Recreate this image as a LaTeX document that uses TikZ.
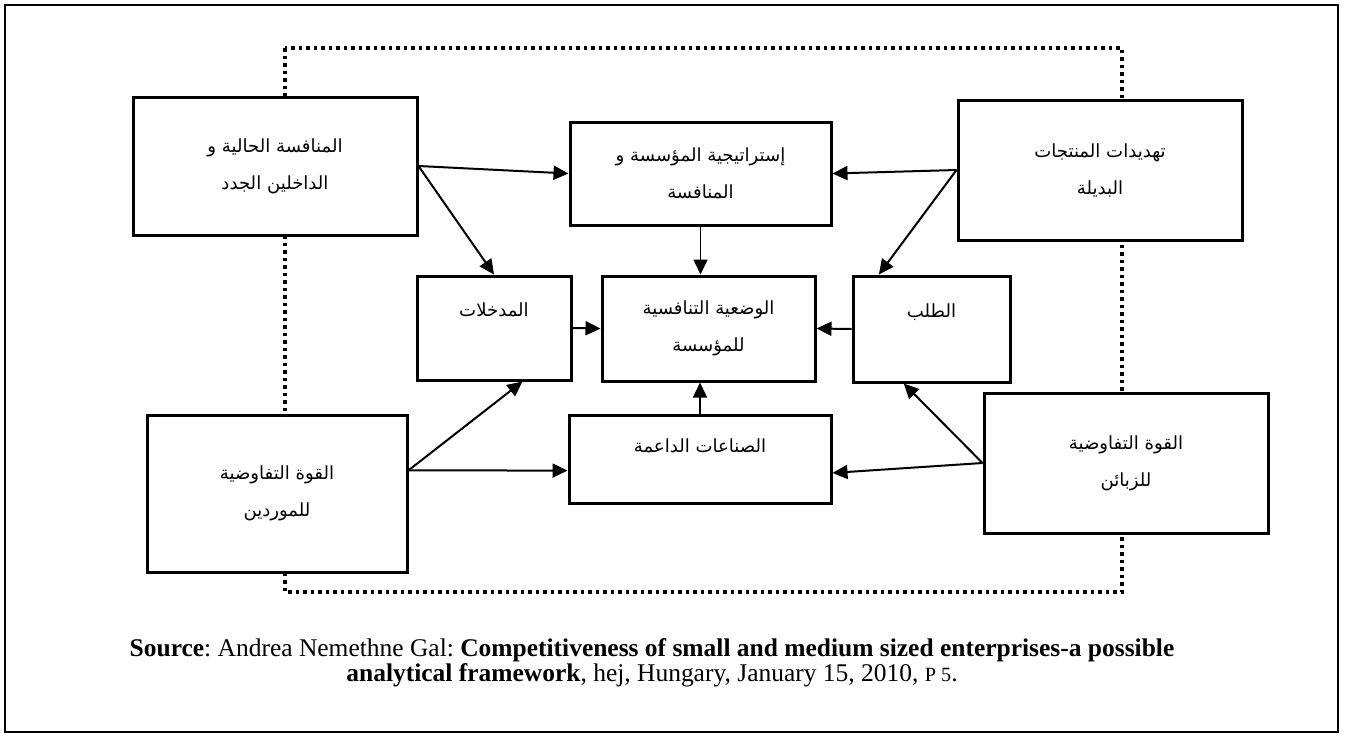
\documentclass[tikz,border=0pt]{standalone}
\usepackage{fontspec}
\setmainfont{Liberation Serif}
\newfontfamily\arabicfont[Script=Arabic]{DejaVu Sans}
\TeXXeTstate=1
\frenchspacing
\usetikzlibrary{
    arrows.meta,
    calc
}
\tikzset{fbox/.style={inner sep=0pt, rectangle, draw=black, fill=white, line width=0.06cm, align=center, font=\arabicfont\fontsize{10.3}{21}\selectfont}}
\tikzset{flow/.style={line width=0.04cm, -{Triangle[length=0.3cm,width=0.28cm]}}}
\tikzset{thinflow/.style={line width=0.03cm, -{Triangle[length=0.3cm,width=0.28cm]}}}

\begin{document}
\begin{tikzpicture}[x=0.02cm, y=-0.02cm]
                        \useasboundingbox (0, 0) rectangle (1345, 735);
                        \draw[line width=0.04cm] (5, 5) rectangle (1338, 732);
                        \draw[line width=0.07cm, dash pattern=on 0.07cm off 0.08cm] (285, 48) rectangle (1122, 592);

                        \node[fbox, minimum width=284*0.02cm, minimum height=138*0.02cm] (tl) at (275, 166) {\beginR المنافسة الحالية و\endR\\\beginR الداخلين الجدد\endR};
                        \node[fbox, minimum width=261*0.02cm, minimum height=103*0.02cm] (tc) at (700.5, 173.5) {\beginR إستراتيجية المؤسسة و\endR\\\beginR المنافسة\endR};
                        \node[fbox, minimum width=284*0.02cm, minimum height=140*0.02cm] (tr) at (1100, 170) {\beginR تهديدات المنتجات\endR\\\beginR البديلة\endR};
                        \node[fbox, minimum width=154*0.02cm, minimum height=104*0.02cm] (ml) at (494, 328) {\beginR المدخلات\endR\\\mbox{}};
                        \node[fbox, minimum width=213*0.02cm, minimum height=105*0.02cm] (mc) at (708.5, 328.5) {\beginR الوضعية التنافسية\endR\\\beginR للمؤسسة\endR};
                        \node[fbox, minimum width=157*0.02cm, minimum height=106*0.02cm] (mr) at (931.5, 329) {\beginR الطلب\endR\\\mbox{}};
                        \node[fbox, minimum width=260*0.02cm, minimum height=157*0.02cm] (bl) at (277, 493.5) {\beginR القوة التفاوضية\endR\\\beginR للموردين\endR};
                        \node[fbox, minimum width=262*0.02cm, minimum height=88*0.02cm] (bc) at (700, 459) {\beginR الصناعات الداعمة\endR\\[-6pt]\mbox{}};
                        \node[fbox, minimum width=284*0.02cm, minimum height=140*0.02cm] (br) at (1126, 463) {\beginR القوة التفاوضية\endR\\\beginR للزبائن\endR};

                        \path[flow]
                        (tl.east) edge (tc.west)
                        (tl.east) edge (ml.north)
                        (tr.west) edge (tc.east)
                        (tr.west) edge (mr.134)
                        (ml.east) edge (mc.west)
                        (mr.west) edge (mc.east)
                        (bl.10) edge (ml.-62)
                        (bl.10) edge (bc.185)
                        (br.west) edge (bc.-6)
                        (br.west) edge (mr.243);
                        \path[thinflow]
                        (tc.south) edge (tc.south |- mc.north)
                        (bc.north) edge (bc.north |- mc.south);

                        \node[align=center, font=\fontsize{14.5}{14.2}\selectfont] (src) at (652, 663) {\textbf{Source}: Andrea Nemethne Gal: \textbf{Competitiveness of small and medium sized enterprises-a possible}\\\textbf{analytical framework}, hej, Hungary, January 15, 2010, {\fontsize{11.5}{14.2}\selectfont P 5}.};
                    \end{tikzpicture}
\end{document}
